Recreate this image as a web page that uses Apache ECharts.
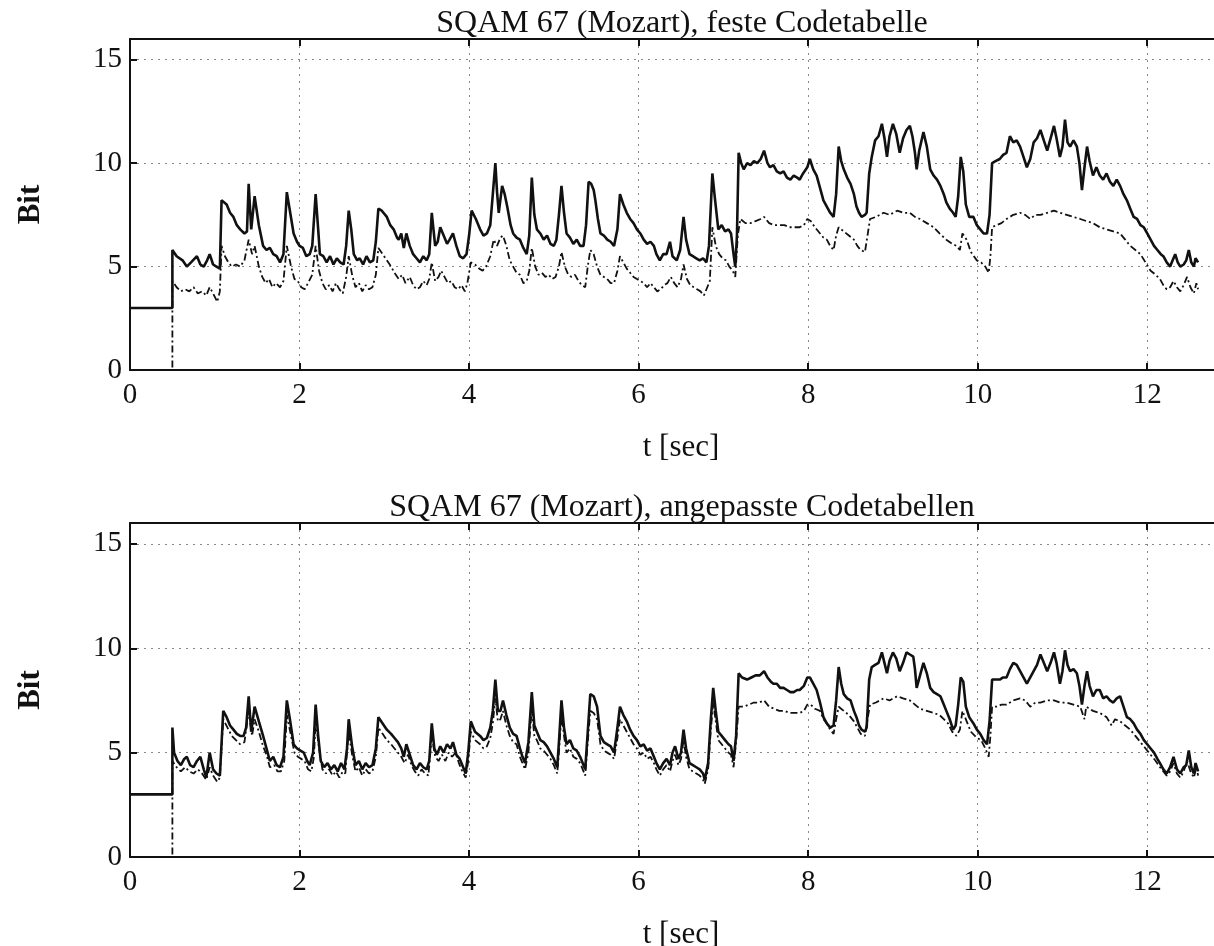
<!DOCTYPE html>
<html>
<head>
<meta charset="UTF-8">
<script src="https://cdn.jsdelivr.net/npm/echarts@6/dist/echarts.min.js"></script>
<title>SQAM 67 (Mozart)</title>
</head>
<body style="margin:0;background:#fff">
<div id="main" style="width:1214px;height:946px"></div>
<script>
// titles
var titles = ['SQAM 67 (Mozart), feste Codetabelle', 'SQAM 67 (Mozart), angepasste Codetabellen'];
var yTicks = [0, 5, 10, 15];

// [t, bit] - oberes Bild, durchgezogen
var topSolid = [[0,3],[0.5,3],[0.5,5.8],[0.55,5.5],[0.62,5.3],[0.67,5.0],[0.72,5.2],[0.79,5.5],[0.83,5.1],[0.87,5.0],[0.91,5.3],[0.94,5.6],[0.98,5.1],[1.02,5.0],[1.06,4.9],[1.08,8.2],[1.14,8.0],[1.18,7.6],[1.22,7.4],[1.26,7.0],[1.3,6.8],[1.35,6.6],[1.38,6.7],[1.40,9.0],[1.43,6.8],[1.47,8.4],[1.52,7.0],[1.57,6.0],[1.61,5.8],[1.65,5.9],[1.69,5.6],[1.73,5.5],[1.77,5.2],[1.81,5.6],[1.85,8.6],[1.89,7.6],[1.93,6.6],[1.97,6.2],[2.0,6.0],[2.04,5.9],[2.08,5.5],[2.12,5.6],[2.15,6.0],[2.19,8.5],[2.22,6.8],[2.24,5.6],[2.28,5.5],[2.32,5.2],[2.36,5.5],[2.4,5.1],[2.44,5.4],[2.48,5.2],[2.52,5.1],[2.55,6.0],[2.58,7.7],[2.61,6.8],[2.64,5.6],[2.68,5.3],[2.71,5.4],[2.75,5.1],[2.79,5.5],[2.83,5.2],[2.87,5.3],[2.9,6.2],[2.93,7.8],[2.97,7.7],[3.03,7.4],[3.07,7.0],[3.11,6.8],[3.15,6.4],[3.17,6.3],[3.2,6.6],[3.23,5.9],[3.26,6.6],[3.3,6.0],[3.34,5.6],[3.38,5.4],[3.42,5.2],[3.46,5.5],[3.5,5.3],[3.53,5.6],[3.56,7.6],[3.58,6.8],[3.6,6.0],[3.63,6.2],[3.66,6.9],[3.7,6.5],[3.74,6.1],[3.77,6.3],[3.81,6.6],[3.85,6.0],[3.89,5.5],[3.93,5.4],[3.97,5.6],[4.0,6.5],[4.03,7.7],[4.08,7.3],[4.13,6.8],[4.17,6.5],[4.21,6.6],[4.25,7.0],[4.28,8.5],[4.31,10.0],[4.33,8.6],[4.35,7.6],[4.39,8.9],[4.42,8.5],[4.45,7.9],[4.49,7.0],[4.52,6.6],[4.56,6.4],[4.6,6.3],[4.64,5.9],[4.68,5.6],[4.71,6.5],[4.74,9.3],[4.77,7.5],[4.8,6.8],[4.84,6.6],[4.88,6.3],[4.92,6.5],[4.96,6.1],[5.0,6.0],[5.03,6.3],[5.06,7.5],[5.09,8.9],[5.12,7.6],[5.15,6.6],[5.19,6.4],[5.23,6.1],[5.27,6.3],[5.31,6.0],[5.35,6.0],[5.38,7.0],[5.41,9.1],[5.44,9.0],[5.47,8.7],[5.49,8.2],[5.52,7.3],[5.55,6.6],[5.59,6.5],[5.63,6.3],[5.67,6.2],[5.71,6.0],[5.75,6.8],[5.78,8.5],[5.82,8.0],[5.86,7.6],[5.9,7.3],[5.94,7.1],[5.98,6.8],[6.02,6.6],[6.06,6.3],[6.1,6.1],[6.14,6.2],[6.18,6.0],[6.21,5.6],[6.25,5.3],[6.29,5.6],[6.33,5.6],[6.37,6.2],[6.4,5.5],[6.45,5.3],[6.49,5.8],[6.53,7.4],[6.56,6.3],[6.6,5.6],[6.64,5.5],[6.68,5.4],[6.72,5.3],[6.76,5.4],[6.8,5.2],[6.83,6.0],[6.87,9.5],[6.9,8.3],[6.94,6.8],[6.98,7.0],[7.02,6.7],[7.06,6.8],[7.09,6.6],[7.12,5.6],[7.14,5.0],[7.16,6.5],[7.18,10.5],[7.21,10.0],[7.24,9.7],[7.28,10.0],[7.32,9.9],[7.36,10.1],[7.4,10.0],[7.44,10.2],[7.48,10.6],[7.52,10.0],[7.55,9.8],[7.59,9.9],[7.63,9.6],[7.67,9.5],[7.71,9.6],[7.75,9.3],[7.79,9.2],[7.83,9.4],[7.87,9.3],[7.9,9.2],[7.94,9.5],[7.99,9.8],[8.02,10.2],[8.06,9.7],[8.1,9.4],[8.14,8.8],[8.18,8.2],[8.22,7.9],[8.26,7.6],[8.3,7.4],[8.33,8.5],[8.36,10.8],[8.39,10.1],[8.42,9.7],[8.46,9.3],[8.5,9.0],[8.54,8.5],[8.57,7.9],[8.6,7.6],[8.63,7.4],[8.67,7.5],[8.69,7.6],[8.72,9.5],[8.75,10.3],[8.79,11.1],[8.83,11.3],[8.87,11.9],[8.9,11.2],[8.93,10.3],[8.96,11.3],[9.0,11.9],[9.04,11.4],[9.08,10.5],[9.12,11.2],[9.16,11.6],[9.2,11.8],[9.23,11.3],[9.26,10.5],[9.28,9.7],[9.31,10.6],[9.36,11.5],[9.4,10.8],[9.44,9.7],[9.48,9.4],[9.52,9.2],[9.56,8.9],[9.6,8.5],[9.63,8.1],[9.67,7.8],[9.71,7.6],[9.74,7.4],[9.77,8.4],[9.8,10.3],[9.83,9.6],[9.86,8.0],[9.9,7.4],[9.95,7.4],[9.99,7.0],[10.03,6.8],[10.07,6.6],[10.11,6.6],[10.14,7.5],[10.17,10.0],[10.21,10.1],[10.26,10.2],[10.3,10.4],[10.34,10.5],[10.38,11.3],[10.42,11.0],[10.46,11.1],[10.5,10.8],[10.54,10.3],[10.58,9.8],[10.62,10.2],[10.66,11.0],[10.7,11.2],[10.74,11.6],[10.78,11.1],[10.82,10.6],[10.86,11.2],[10.9,11.8],[10.93,11.2],[10.97,10.3],[11.0,10.8],[11.03,12.1],[11.06,11.0],[11.09,10.8],[11.13,11.1],[11.17,10.8],[11.2,10.0],[11.23,8.7],[11.26,9.8],[11.29,10.8],[11.32,10.1],[11.36,9.4],[11.4,9.8],[11.44,9.4],[11.48,9.2],[11.52,9.5],[11.56,9.1],[11.6,8.9],[11.64,9.2],[11.68,8.9],[11.72,8.5],[11.76,8.2],[11.8,7.8],[11.84,7.4],[11.88,7.3],[11.92,7.0],[11.96,6.9],[12.0,6.6],[12.04,6.3],[12.08,6.0],[12.12,5.8],[12.16,5.6],[12.19,5.5],[12.23,5.2],[12.27,5.0],[12.3,5.3],[12.33,5.6],[12.36,5.2],[12.39,5.0],[12.43,5.1],[12.46,5.3],[12.49,5.8],[12.52,5.2],[12.55,5.0],[12.57,5.4],[12.6,5.2]];

// oberes Bild, strichpunktiert
var topDashed = [[0,0],[0.5,0],[0.5,4.3],[0.55,4.0],[0.6,3.8],[0.65,3.9],[0.7,3.8],[0.75,4.0],[0.8,3.7],[0.85,3.8],[0.9,3.6],[0.94,4.0],[0.98,3.7],[1.03,3.3],[1.06,3.8],[1.08,6.0],[1.12,5.5],[1.16,5.2],[1.2,5.0],[1.25,5.1],[1.3,5.0],[1.35,5.3],[1.4,6.3],[1.44,5.6],[1.47,6.0],[1.52,5.0],[1.56,4.5],[1.6,4.2],[1.64,4.4],[1.68,4.0],[1.72,4.2],[1.77,4.0],[1.81,4.3],[1.85,6.0],[1.9,5.0],[1.94,4.4],[1.98,4.3],[2.02,4.0],[2.06,3.9],[2.1,4.2],[2.15,4.6],[2.19,6.0],[2.23,4.8],[2.27,4.2],[2.31,3.9],[2.35,4.1],[2.39,3.8],[2.43,4.2],[2.47,3.9],[2.51,3.7],[2.55,4.5],[2.58,5.5],[2.62,4.6],[2.66,4.0],[2.7,4.2],[2.74,3.8],[2.78,4.1],[2.82,3.9],[2.86,4.0],[2.9,4.6],[2.93,5.9],[2.98,5.6],[3.03,5.3],[3.08,5.0],[3.12,4.7],[3.17,4.4],[3.21,4.6],[3.25,4.2],[3.3,4.5],[3.34,4.1],[3.38,3.9],[3.42,4.0],[3.46,4.3],[3.5,4.1],[3.53,4.4],[3.56,5.2],[3.6,4.3],[3.64,4.5],[3.67,4.8],[3.71,4.5],[3.75,4.2],[3.79,4.3],[3.83,4.0],[3.87,3.9],[3.91,4.1],[3.95,3.8],[3.98,4.2],[4.02,5.2],[4.07,5.1],[4.12,4.9],[4.16,4.8],[4.2,5.0],[4.25,5.5],[4.29,6.3],[4.33,6.0],[4.37,6.4],[4.4,6.5],[4.44,6.0],[4.48,5.3],[4.52,5.0],[4.56,4.7],[4.6,4.6],[4.64,4.2],[4.68,4.3],[4.71,4.8],[4.74,5.9],[4.78,5.0],[4.82,4.6],[4.86,4.7],[4.9,4.5],[4.94,4.6],[4.98,4.4],[5.02,4.5],[5.06,5.0],[5.09,5.7],[5.13,5.0],[5.17,4.6],[5.21,4.5],[5.25,4.6],[5.29,4.3],[5.33,4.1],[5.37,4.0],[5.4,5.0],[5.43,5.8],[5.47,5.6],[5.51,5.0],[5.55,4.6],[5.59,4.5],[5.63,4.4],[5.67,4.2],[5.71,4.2],[5.75,4.8],[5.78,5.5],[5.82,5.2],[5.86,4.9],[5.9,4.7],[5.94,4.5],[5.98,4.4],[6.02,4.3],[6.06,4.2],[6.1,4.0],[6.14,4.2],[6.18,4.0],[6.22,3.8],[6.26,3.9],[6.3,4.1],[6.34,4.2],[6.38,4.5],[6.42,4.2],[6.46,4.0],[6.5,4.4],[6.53,5.1],[6.57,4.4],[6.61,4.1],[6.65,4.0],[6.69,3.9],[6.73,3.8],[6.77,3.6],[6.81,4.0],[6.84,4.3],[6.87,6.9],[6.91,6.0],[6.95,5.6],[6.99,5.4],[7.03,5.3],[7.07,5.0],[7.11,4.8],[7.14,4.5],[7.17,6.5],[7.2,7.3],[7.26,7.1],[7.32,7.1],[7.38,7.2],[7.44,7.3],[7.48,7.4],[7.54,7.1],[7.6,7.0],[7.66,7.0],[7.72,7.0],[7.78,6.9],[7.84,6.9],[7.9,6.9],[7.95,7.0],[7.99,7.3],[8.03,7.2],[8.08,6.9],[8.14,6.6],[8.18,6.4],[8.22,6.3],[8.26,6.0],[8.3,5.8],[8.33,6.5],[8.36,6.9],[8.42,6.7],[8.48,6.5],[8.54,6.3],[8.58,6.0],[8.62,5.8],[8.67,5.7],[8.7,6.5],[8.73,7.3],[8.8,7.4],[8.89,7.6],[8.96,7.5],[9.05,7.7],[9.12,7.6],[9.2,7.6],[9.26,7.4],[9.32,7.3],[9.4,7.1],[9.48,6.9],[9.55,6.6],[9.63,6.3],[9.7,6.1],[9.75,6.0],[9.79,5.8],[9.82,6.6],[9.87,6.3],[9.92,5.7],[9.99,5.3],[10.04,5.2],[10.09,5.0],[10.13,4.7],[10.15,5.5],[10.17,6.9],[10.22,7.0],[10.28,7.1],[10.34,7.3],[10.42,7.5],[10.5,7.6],[10.56,7.5],[10.62,7.3],[10.68,7.5],[10.74,7.5],[10.82,7.6],[10.9,7.7],[10.97,7.6],[11.05,7.5],[11.13,7.4],[11.21,7.3],[11.28,7.2],[11.36,7.1],[11.44,6.9],[11.52,6.8],[11.6,6.7],[11.68,6.6],[11.74,6.3],[11.8,6.0],[11.86,5.8],[11.92,5.6],[11.98,5.2],[12.04,4.8],[12.1,4.6],[12.15,4.4],[12.19,4.1],[12.23,3.9],[12.27,4.0],[12.31,4.3],[12.35,4.0],[12.39,3.8],[12.43,4.1],[12.47,4.5],[12.51,4.0],[12.55,3.7],[12.58,4.2],[12.6,3.9]];

// unteres Bild, durchgezogen
var botSolid = [[0,3],[0.5,3],[0.5,6.2],[0.52,5.0],[0.56,4.6],[0.6,4.4],[0.64,4.7],[0.67,4.8],[0.71,4.4],[0.75,4.3],[0.79,4.6],[0.83,4.8],[0.87,4.2],[0.9,3.8],[0.94,5.0],[0.98,4.2],[1.02,4.0],[1.06,3.9],[1.1,7.0],[1.14,6.7],[1.18,6.3],[1.22,6.1],[1.26,5.9],[1.3,5.8],[1.34,5.8],[1.37,6.2],[1.4,7.7],[1.43,6.0],[1.47,7.2],[1.52,6.5],[1.57,5.8],[1.61,5.2],[1.65,4.6],[1.69,4.8],[1.73,4.4],[1.77,4.3],[1.81,4.8],[1.85,7.5],[1.89,6.5],[1.93,5.4],[1.97,5.2],[2.01,5.1],[2.05,5.0],[2.09,4.6],[2.12,4.4],[2.16,5.0],[2.19,7.3],[2.22,5.8],[2.25,4.6],[2.29,4.3],[2.33,4.5],[2.37,4.2],[2.41,4.4],[2.45,4.1],[2.49,4.5],[2.53,4.2],[2.56,5.2],[2.58,6.6],[2.62,5.3],[2.66,4.4],[2.7,4.6],[2.74,4.2],[2.78,4.5],[2.82,4.3],[2.86,4.4],[2.9,5.2],[2.93,6.7],[2.98,6.4],[3.03,6.1],[3.08,5.9],[3.12,5.7],[3.16,5.5],[3.2,5.2],[3.23,4.8],[3.26,5.4],[3.3,4.9],[3.34,4.4],[3.38,4.2],[3.42,4.5],[3.46,4.3],[3.5,4.2],[3.53,4.6],[3.56,6.4],[3.59,5.2],[3.62,4.9],[3.66,5.3],[3.7,5.0],[3.74,5.4],[3.78,5.2],[3.81,5.5],[3.85,4.9],[3.89,4.7],[3.93,4.3],[3.96,4.0],[3.99,5.0],[4.02,6.5],[4.07,6.0],[4.13,5.8],[4.17,5.6],[4.21,5.7],[4.25,6.2],[4.28,7.0],[4.31,8.5],[4.34,7.0],[4.37,7.0],[4.4,7.5],[4.44,6.8],[4.48,6.2],[4.52,5.9],[4.56,5.8],[4.6,5.2],[4.63,4.8],[4.66,4.5],[4.7,5.5],[4.74,7.9],[4.77,6.3],[4.8,6.0],[4.84,5.6],[4.88,5.5],[4.92,5.3],[4.96,5.0],[5.0,4.7],[5.04,4.3],[5.06,5.5],[5.09,7.5],[5.12,6.2],[5.15,5.4],[5.19,5.6],[5.23,5.2],[5.27,5.1],[5.31,4.8],[5.34,4.5],[5.37,4.2],[5.4,6.0],[5.43,7.8],[5.47,7.7],[5.51,7.2],[5.53,6.5],[5.55,5.8],[5.59,5.5],[5.63,5.4],[5.67,5.3],[5.71,5.0],[5.75,6.2],[5.78,7.2],[5.82,6.8],[5.86,6.5],[5.9,6.1],[5.94,5.8],[5.98,5.6],[6.02,5.3],[6.06,5.4],[6.1,5.1],[6.14,5.2],[6.18,4.8],[6.21,4.5],[6.25,4.2],[6.29,4.5],[6.33,4.7],[6.37,4.4],[6.4,5.0],[6.43,5.3],[6.47,4.7],[6.5,5.0],[6.53,6.1],[6.56,5.2],[6.6,4.5],[6.64,4.4],[6.68,4.3],[6.72,4.2],[6.76,4.0],[6.78,3.7],[6.82,4.5],[6.85,6.5],[6.88,8.1],[6.91,7.0],[6.94,6.0],[6.98,5.8],[7.02,5.6],[7.06,5.4],[7.09,5.3],[7.12,4.6],[7.15,5.8],[7.18,8.8],[7.22,8.6],[7.28,8.5],[7.33,8.6],[7.38,8.7],[7.43,8.7],[7.48,8.9],[7.52,8.6],[7.56,8.4],[7.59,8.3],[7.63,8.3],[7.67,8.1],[7.71,8.1],[7.75,8.0],[7.79,7.9],[7.83,7.9],[7.87,8.0],[7.9,8.0],[7.95,8.2],[7.99,8.6],[8.02,8.6],[8.06,8.3],[8.1,8.0],[8.14,7.4],[8.18,6.7],[8.22,6.4],[8.26,6.2],[8.3,6.3],[8.33,7.5],[8.36,9.1],[8.39,8.3],[8.42,7.8],[8.46,7.6],[8.5,7.5],[8.54,7.0],[8.57,6.7],[8.6,6.3],[8.63,6.1],[8.67,6.0],[8.69,6.2],[8.72,8.5],[8.75,9.1],[8.79,9.2],[8.83,9.3],[8.87,9.8],[8.9,9.3],[8.93,8.8],[8.96,9.4],[9.0,9.8],[9.04,9.5],[9.08,8.9],[9.12,9.3],[9.16,9.8],[9.2,9.7],[9.24,9.6],[9.26,9.0],[9.28,8.1],[9.32,8.7],[9.36,9.3],[9.4,8.8],[9.44,8.1],[9.48,7.9],[9.52,7.8],[9.56,7.7],[9.6,7.3],[9.63,7.0],[9.67,6.6],[9.71,6.1],[9.74,6.3],[9.77,7.3],[9.8,8.6],[9.83,8.4],[9.86,7.2],[9.9,6.7],[9.95,6.4],[9.99,6.1],[10.03,5.9],[10.07,5.6],[10.11,5.4],[10.14,6.5],[10.17,8.5],[10.21,8.5],[10.26,8.5],[10.3,8.6],[10.34,8.6],[10.38,9.0],[10.42,9.3],[10.46,9.2],[10.5,8.9],[10.54,8.6],[10.58,8.3],[10.62,8.6],[10.66,8.9],[10.7,9.2],[10.74,9.7],[10.78,9.3],[10.82,8.9],[10.86,9.3],[10.9,9.8],[10.93,9.3],[10.97,8.3],[11.0,8.9],[11.03,9.9],[11.06,9.2],[11.09,8.9],[11.13,9.0],[11.17,8.8],[11.2,8.2],[11.23,7.3],[11.26,8.2],[11.29,8.9],[11.32,8.2],[11.36,7.7],[11.4,8.0],[11.44,8.0],[11.48,7.6],[11.52,7.7],[11.56,7.5],[11.6,7.4],[11.64,7.6],[11.68,7.7],[11.72,7.2],[11.76,6.7],[11.8,6.6],[11.84,6.4],[11.88,6.1],[11.92,5.9],[11.96,5.6],[12.0,5.4],[12.04,5.2],[12.08,5.0],[12.12,4.7],[12.15,4.5],[12.19,4.2],[12.23,4.0],[12.27,4.3],[12.31,4.8],[12.35,4.2],[12.39,4.0],[12.43,4.3],[12.46,4.4],[12.49,5.1],[12.52,4.3],[12.55,4.0],[12.57,4.5],[12.6,4.1]];

// unteres Bild, strichpunktiert
var botDashed = [[0,0],[0.5,0],[0.5,4.6],[0.55,4.3],[0.6,4.1],[0.65,4.3],[0.7,4.1],[0.75,4.0],[0.8,4.2],[0.85,4.0],[0.9,3.7],[0.94,4.3],[0.98,3.9],[1.03,3.6],[1.06,3.8],[1.1,6.6],[1.15,6.2],[1.2,5.8],[1.25,5.6],[1.3,5.4],[1.35,5.5],[1.4,7.0],[1.44,5.8],[1.47,6.6],[1.52,6.0],[1.57,5.3],[1.61,4.9],[1.65,4.3],[1.7,4.4],[1.74,4.1],[1.78,4.1],[1.82,4.6],[1.85,6.8],[1.9,5.8],[1.94,5.0],[1.98,4.8],[2.02,4.7],[2.06,4.6],[2.1,4.2],[2.14,4.1],[2.17,4.8],[2.19,6.6],[2.23,5.2],[2.27,4.2],[2.31,4.0],[2.35,4.2],[2.39,3.9],[2.43,4.1],[2.47,3.8],[2.51,4.1],[2.54,4.0],[2.58,6.0],[2.62,4.9],[2.66,4.1],[2.7,4.3],[2.74,3.9],[2.78,4.2],[2.82,4.0],[2.86,4.1],[2.9,4.8],[2.93,6.2],[2.98,5.9],[3.03,5.6],[3.08,5.4],[3.12,5.2],[3.16,5.0],[3.2,4.8],[3.24,4.5],[3.28,4.9],[3.32,4.4],[3.36,4.1],[3.4,3.9],[3.44,4.2],[3.48,4.0],[3.52,3.9],[3.56,5.8],[3.6,4.8],[3.64,4.6],[3.68,4.9],[3.72,4.6],[3.76,5.0],[3.8,4.8],[3.84,5.0],[3.88,4.5],[3.92,4.1],[3.96,3.8],[3.99,4.6],[4.02,6.0],[4.07,5.6],[4.13,5.4],[4.17,5.2],[4.21,5.3],[4.25,5.7],[4.28,6.4],[4.31,7.6],[4.34,6.5],[4.37,6.6],[4.4,7.0],[4.44,6.3],[4.48,5.8],[4.52,5.5],[4.56,5.4],[4.6,4.8],[4.63,4.5],[4.66,4.2],[4.7,5.0],[4.74,7.1],[4.77,5.8],[4.8,5.6],[4.84,5.2],[4.88,5.1],[4.92,4.9],[4.96,4.7],[5.0,4.4],[5.04,4.0],[5.06,5.0],[5.09,6.8],[5.12,5.8],[5.15,5.0],[5.19,5.2],[5.23,4.8],[5.27,4.7],[5.31,4.5],[5.34,4.2],[5.37,3.9],[5.4,5.5],[5.43,7.0],[5.47,6.9],[5.51,6.6],[5.53,6.0],[5.55,5.4],[5.59,5.1],[5.63,5.0],[5.67,4.9],[5.71,4.7],[5.75,5.7],[5.78,6.6],[5.82,6.3],[5.86,6.0],[5.9,5.7],[5.94,5.4],[5.98,5.2],[6.02,4.9],[6.06,5.0],[6.1,4.7],[6.14,4.8],[6.18,4.5],[6.21,4.2],[6.25,3.9],[6.29,4.2],[6.33,4.4],[6.37,4.1],[6.4,4.6],[6.43,4.9],[6.47,4.4],[6.5,4.7],[6.53,5.6],[6.56,4.8],[6.6,4.2],[6.64,4.1],[6.68,4.0],[6.72,3.9],[6.76,3.7],[6.78,3.5],[6.82,4.2],[6.85,6.0],[6.88,7.4],[6.91,6.5],[6.94,5.6],[6.98,5.4],[7.02,5.2],[7.06,5.0],[7.09,4.9],[7.12,4.3],[7.15,5.5],[7.18,7.2],[7.24,7.2],[7.3,7.3],[7.36,7.4],[7.42,7.4],[7.48,7.5],[7.54,7.2],[7.6,7.1],[7.66,7.0],[7.72,7.0],[7.78,6.9],[7.84,6.9],[7.9,6.9],[7.95,7.0],[7.99,7.3],[8.03,7.3],[8.08,7.1],[8.14,7.0],[8.18,6.6],[8.22,6.4],[8.26,6.1],[8.3,5.9],[8.33,6.6],[8.36,7.2],[8.42,7.0],[8.48,6.8],[8.54,6.5],[8.58,6.2],[8.62,5.9],[8.67,5.8],[8.7,6.6],[8.73,7.3],[8.8,7.4],[8.89,7.6],[8.96,7.5],[9.05,7.7],[9.12,7.6],[9.2,7.5],[9.26,7.3],[9.32,7.1],[9.4,7.0],[9.48,6.9],[9.55,6.8],[9.6,6.6],[9.65,6.4],[9.7,6.0],[9.75,5.8],[9.79,6.1],[9.82,7.0],[9.87,6.5],[9.92,6.0],[9.99,5.7],[10.04,5.6],[10.09,5.2],[10.13,4.8],[10.15,5.8],[10.17,7.2],[10.22,7.2],[10.28,7.3],[10.34,7.3],[10.42,7.5],[10.5,7.6],[10.56,7.5],[10.62,7.2],[10.68,7.4],[10.74,7.4],[10.82,7.5],[10.9,7.5],[10.97,7.4],[11.05,7.4],[11.13,7.3],[11.21,7.2],[11.26,6.6],[11.28,7.2],[11.36,7.0],[11.44,6.9],[11.52,6.7],[11.58,6.3],[11.62,6.6],[11.68,6.5],[11.74,6.3],[11.8,6.1],[11.86,5.8],[11.92,5.5],[11.98,5.2],[12.04,4.9],[12.1,4.6],[12.15,4.3],[12.19,4.1],[12.23,3.9],[12.27,4.1],[12.31,4.5],[12.35,4.0],[12.39,3.8],[12.43,4.1],[12.47,4.6],[12.51,4.1],[12.55,3.8],[12.58,4.3],[12.6,3.9]];

var FONT = 'Liberation Serif';
var INK = '#111';

var myChart = echarts.init(document.getElementById('main'));

function xAx(grid, pos) {
    var bottom = pos === 'bottom';
    return {
        type: 'value', gridIndex: grid, position: pos,
        min: 0, max: 13, interval: 2,
        name: bottom ? 't [sec]' : '', nameLocation: 'middle', nameGap: 62,
        nameTextStyle: {fontFamily: FONT, fontSize: 31, color: INK},
        axisLine: {show: true, lineStyle: {color: INK, width: 2}},
        axisTick: {show: true, inside: true, length: 7, lineStyle: {color: INK, width: 2}},
        axisLabel: {show: bottom, fontFamily: FONT, fontSize: 29, color: INK, margin: 11, showMaxLabel: false},
        splitLine: {show: bottom, lineStyle: {type: [2, 5], color: '#888', width: 1}}
    };
}
function yAx(grid) {
    return {
        type: 'value', gridIndex: grid,
        min: 0, max: 16, interval: 5,
        name: 'Bit', nameLocation: 'middle', nameGap: 84, nameRotate: 90,
        nameTextStyle: {fontFamily: FONT, fontSize: 31, fontWeight: 'bold', color: INK},
        axisLine: {show: true, lineStyle: {color: INK, width: 2}},
        axisTick: {show: true, inside: true, length: 7, lineStyle: {color: INK, width: 2}},
        axisLabel: {fontFamily: FONT, fontSize: 29, color: INK, margin: 8, showMaxLabel: false,
            formatter: function (v) { return yTicks.indexOf(v) >= 0 ? String(v) : ''; }},
        splitLine: {show: true, lineStyle: {type: [2, 5], color: '#888', width: 1}}
    };
}
function solid(data, xi, yi) {
    return {type: 'line', data: data, xAxisIndex: xi, yAxisIndex: yi, symbol: 'none',
        lineStyle: {color: INK, width: 2.6}, z: 3};
}
function dashed(data, xi, yi) {
    return {type: 'line', data: data, xAxisIndex: xi, yAxisIndex: yi, symbol: 'none',
        lineStyle: {color: INK, width: 1.8, type: [7, 3, 2, 3]}, z: 2};
}

var option = {
    backgroundColor: '#fff',
    animation: false,
    title: [
        {text: titles[0], left: 677, top: 3, textAlign: 'center',
            textStyle: {fontFamily: FONT, fontSize: 32, fontWeight: 'normal', color: INK}},
        {text: titles[1], left: 677, top: 487, textAlign: 'center',
            textStyle: {fontFamily: FONT, fontSize: 32, fontWeight: 'normal', color: INK}}
    ],
    grid: [
        {left: 130, top: 39, width: 1102, height: 331, outerBoundsMode: 'none'},
        {left: 130, top: 523, width: 1102, height: 334, outerBoundsMode: 'none'}
    ],
    xAxis: [xAx(0, 'bottom'), xAx(0, 'top'), xAx(1, 'bottom'), xAx(1, 'top')],
    yAxis: [yAx(0), yAx(1)],
    series: [
        dashed(topDashed, 0, 0), solid(topSolid, 0, 0),
        dashed(botDashed, 2, 1), solid(botSolid, 2, 1)
    ]
};
myChart.setOption(option);
</script>
</body>
</html>
